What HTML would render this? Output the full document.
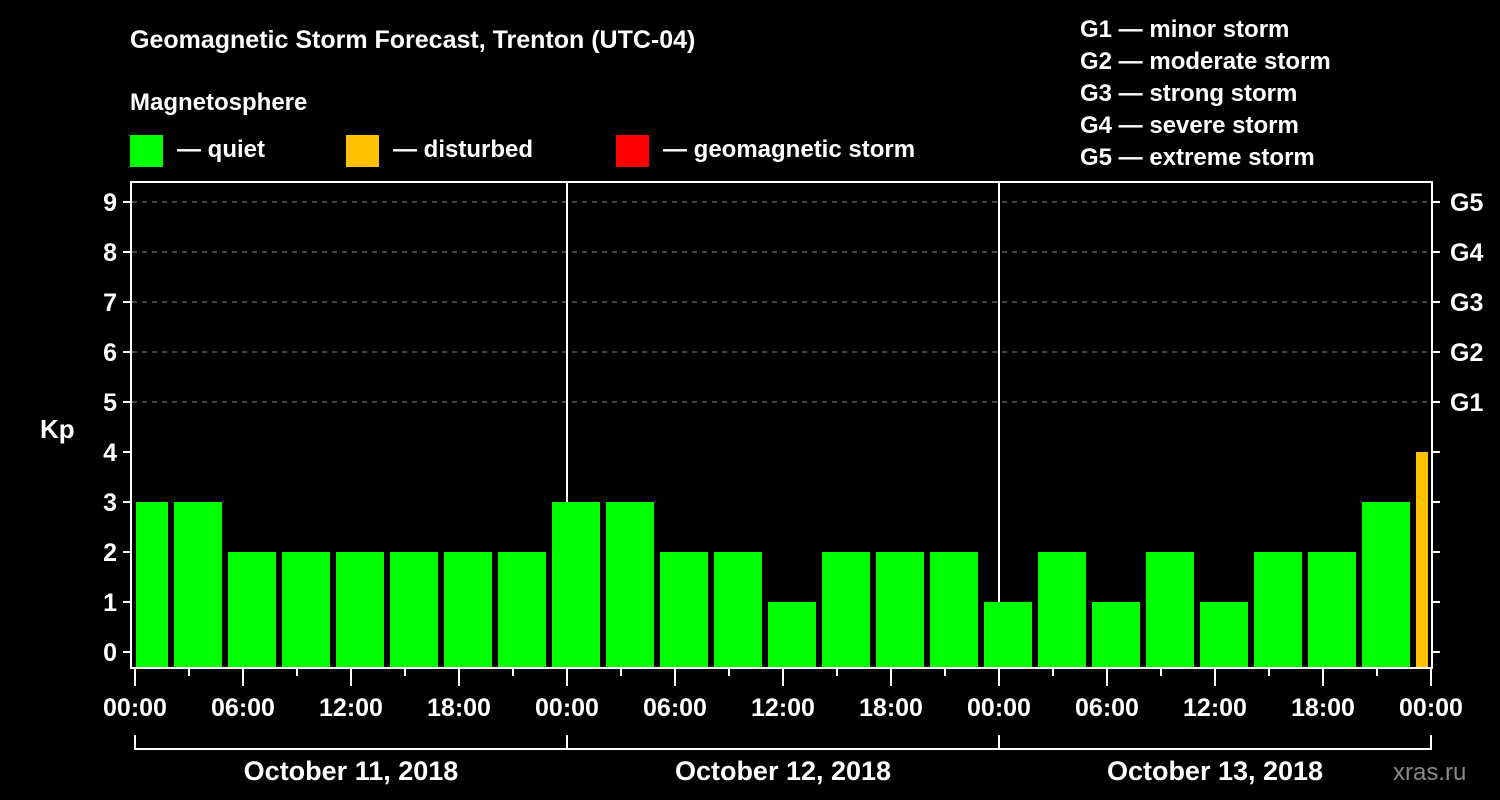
<!DOCTYPE html>
<html><head><meta charset="utf-8"><style>
html,body{margin:0;padding:0;background:#000;}
svg{display:block;font-family:"Liberation Sans",Arial,sans-serif;font-weight:bold;}
</style></head><body>
<svg width="1500" height="800" viewBox="0 0 1500 800">
<rect width="1500" height="800" fill="#000"/>
<text x="130" y="48" fill="#fff" font-size="25">Geomagnetic Storm Forecast, Trenton (UTC-04)</text>
<text x="130" y="110" fill="#fff" font-size="24">Magnetosphere</text>
<g><rect x="130" y="135" width="33" height="32" fill="#00ff00"/><text x="177" y="157" fill="#fff" font-size="24">— quiet</text></g>
<g><rect x="346" y="135" width="33" height="32" fill="#ffc000"/><text x="393" y="157" fill="#fff" font-size="24">— disturbed</text></g>
<g><rect x="616" y="135" width="33" height="32" fill="#ff0000"/><text x="663" y="157" fill="#fff" font-size="24">— geomagnetic storm</text></g>
<g fill="#fff" font-size="24">
<text x="1080" y="37">G1 — minor storm</text>
<text x="1080" y="69">G2 — moderate storm</text>
<text x="1080" y="101">G3 — strong storm</text>
<text x="1080" y="133">G4 — severe storm</text>
<text x="1080" y="165">G5 — extreme storm</text>
</g>
<text x="40" y="438" fill="#fff" font-size="26">Kp</text>
<text x="1393" y="780" fill="#888" font-size="24" font-weight="normal">xras.ru</text>
<defs><clipPath id="pc"><rect x="136" y="182" width="1292" height="486"/></clipPath></defs>
<g id="grid"></g>
<g id="bars" clip-path="url(#pc)"></g>
<g id="axes"></g>
<rect x="131" y="182" width="1301" height="486" fill="none" stroke="#fff" stroke-width="2"/>
</svg>
<script>
const kpValues=[3,3,2,2,2,2,2,2,3,3,2,2,1,2,2,2,1,2,1,2,1,2,2,3,4];
const xTickLabels=["00:00","06:00","12:00","18:00","00:00","06:00","12:00","18:00","00:00","06:00","12:00","18:00","00:00"];
const dayLabels=["October 11, 2018","October 12, 2018","October 13, 2018"];
const gLabels=["G1","G2","G3","G4","G5"];
const NS="http://www.w3.org/2000/svg";
const x=h=>135+h*18;
const y=v=>652-v*50;
function mk(p,t,a){const e=document.createElementNS(NS,t);for(const k in a)e.setAttribute(k,a[k]);p.appendChild(e);return e;}
const grid=document.getElementById('grid'),bars=document.getElementById('bars'),axes=document.getElementById('axes');
for(let v=5;v<=9;v++){
 const l=mk(grid,'line',{x1:132,x2:1431,y1:y(v),y2:y(v),stroke:'#888','stroke-dasharray':'5,5','stroke-width':1});
 
 
}
for(let d=1;d<=2;d++){
 const l=mk(grid,'line',{x1:x(d*24),x2:x(d*24),y1:182,y2:668,stroke:'#fff','stroke-width':2});
 
 
}
kpValues.forEach((v,i)=>{
 const c=x(i*3+0.5);
 const col=v>=5?'#ff0000':(v>=4?'#ffc000':'#00ff00');
 const r=mk(bars,'rect',{x:c-24,y:y(v),width:48,height:668-y(v),fill:col});
 
 
});
for(let v=0;v<=9;v++){
 mk(axes,'line',{x1:123,x2:131,y1:y(v),y2:y(v),stroke:'#fff','stroke-width':2});
 mk(axes,'line',{x1:1432,x2:1440,y1:y(v),y2:y(v),stroke:'#fff','stroke-width':2});
 const t=mk(axes,'text',{x:117,y:y(v)+9,fill:'#fff','font-size':25,'text-anchor':'end'});
 t.textContent=v;
 
 
}
gLabels.forEach((g,i)=>{
 const t=mk(axes,'text',{x:1450,y:y(i+5)+9,fill:'#fff','font-size':25});
 t.textContent=g;
 
 
});
for(let h=0;h<=72;h+=3){
 const major=h%6===0;
 mk(axes,'line',{x1:x(h),x2:x(h),y1:668,y2:major?686:676,stroke:'#fff','stroke-width':2});
}
xTickLabels.forEach((s,i)=>{
 const t=mk(axes,'text',{x:x(i*6),y:716,fill:'#fff','font-size':25,'text-anchor':'middle'});
 t.textContent=s;
 
 
});
mk(axes,'path',{d:`M${x(0)},735V749H${x(72)}V735M${x(24)},735V749M${x(48)},735V749`,stroke:'#fff','stroke-width':2,fill:'none'});
dayLabels.forEach((s,i)=>{
 const t=mk(axes,'text',{x:x(i*24+12),y:780,fill:'#fff','font-size':27,'text-anchor':'middle'});
 t.textContent=s;
 
 
});
</script>
</body></html>
